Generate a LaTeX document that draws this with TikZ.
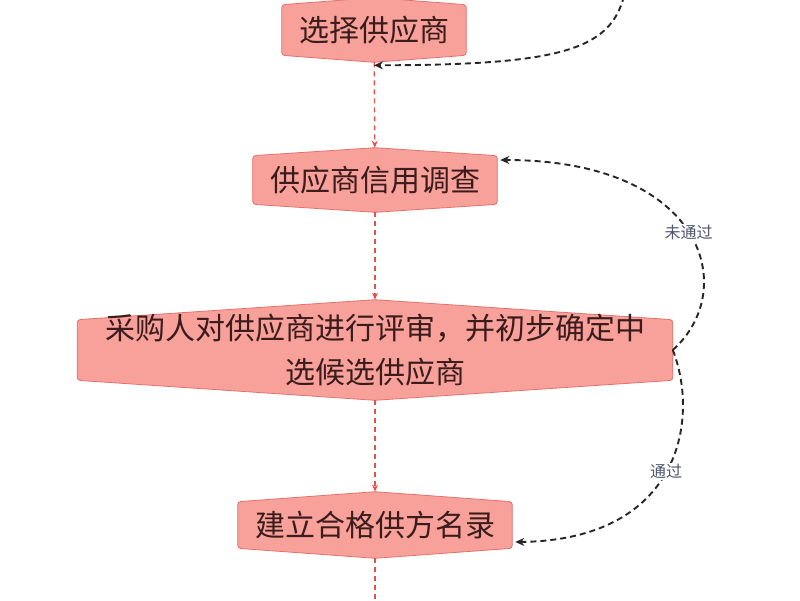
\documentclass[tikz,border=0pt]{standalone}
\usepackage{fontspec}
\setmainfont{Noto Sans CJK SC}
\usetikzlibrary{arrows.meta, backgrounds}

\definecolor{boxfill}{HTML}{F8A19B}
\definecolor{boxline}{HTML}{E2726C}
\definecolor{flowred}{HTML}{E0534B}
\definecolor{boxtext}{HTML}{3A1C1C}
\definecolor{labelgray}{HTML}{50566E}

\begin{document}
\begin{tikzpicture}[
            x = 1pt, y = -1pt, % pixel units, y going down
            > = Stealth, % arrow head style
            semithick % line style
        ]

        \tikzstyle{stepbox}=[
            text = boxtext,
            font = \fontsize{30}{44}\selectfont,
            inner xsep = 17pt,
            minimum height = 64pt,
            align = center
        ]
        \tikzstyle{flowline}=[
            draw = flowred,
            line width = 1.4pt,
            dash pattern = on 5pt off 4pt,
            -{Stealth[length=7pt, width=6pt]}
        ]
        \tikzstyle{backline}=[
            draw = black!85,
            line width = 1.9pt,
            dash pattern = on 6pt off 4pt,
            -{Stealth[length=9pt, width=8pt]}
        ]
        \tikzstyle{lbl}=[
            text = labelgray,
            fill = white,
            inner sep = 1pt,
            font = \fontsize{16}{18}\selectfont
        ]

        \useasboundingbox (0,0) rectangle (800,600);

        \node[stepbox] (select) at (374,30) {选择供应商};
        \node[stepbox] (credit) at (375,180) {供应商信用调查};
        \node[stepbox, minimum width=595pt, minimum height=100pt] (review) at (375,350)
            {采购人对供应商进行评审，并初步确定中\\选候选供应商};
        \node[stepbox, minimum height=66pt] (list) at (375,525) {建立合格供方名录};

        % box outlines behind the text
        \begin{pgfonlayer}{background}
            \foreach \n/\r in {select/7, credit/8, review/20, list/10}
                \draw[boxline, fill=boxfill, line width=0.8pt, rounded corners=3pt]
                    ([yshift=-\r pt]\n.north west) -- (\n.north) -- ([yshift=-\r pt]\n.north east)
                    -- ([yshift=\r pt]\n.south east) -- (\n.south) -- ([yshift=\r pt]\n.south west) -- cycle;
        \end{pgfonlayer}

        \coordinate (topstart) at (624,-4);
        \coordinate (bottomend) at (375,605);

        \draw[flowline] (select) -- (credit);
        \draw[flowline] (credit) -- (review);
        \draw[flowline] (review) -- (list);
        \draw[flowline, -] (list) -- (bottomend);

        \draw[backline] (topstart) .. controls (610,50) and (560,65) .. ([yshift=-3pt]select.south);
        \draw[backline] (review.east) .. controls (740,290) and (705,160) .. ([shift={(3pt,20pt)}]credit.east)
            node[lbl, pos=0.5] {未通过};
        \draw[backline] (review.east) .. controls (700,420) and (680,540) .. ([shift={(3pt,-17pt)}]list.east)
            node[lbl, pos=0.5] {通过};

  \end{tikzpicture}
\end{document}
